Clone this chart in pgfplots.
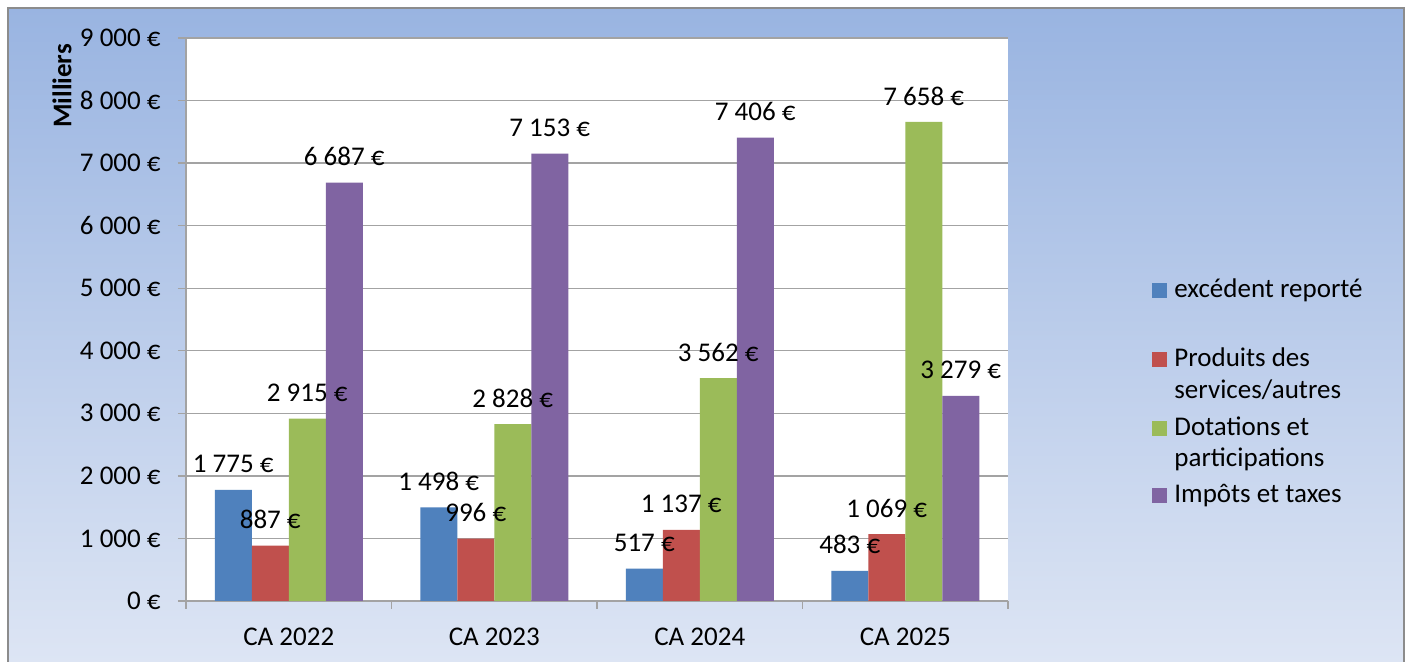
\documentclass[border=0pt]{standalone}
\usepackage{fontspec}
\setmainfont{Carlito}
\usepackage{pgfplots}
\pgfplotsset{compat=1.18}

\definecolor{serA}{HTML}{4F81BD}
\definecolor{serB}{HTML}{C0504D}
\definecolor{serC}{HTML}{9BBB59}
\definecolor{serD}{HTML}{8064A2}
\definecolor{bgtop}{HTML}{99B4E1}
\definecolor{bgbot}{HTML}{DDE5F4}
\definecolor{gridc}{HTML}{A3A3A3}
\definecolor{framec}{HTML}{8C8C8C}
\newcommand\lbl{\fontsize{13.5pt}{16pt}\selectfont}

\begin{document}
\lbl
\begin{tikzpicture}
\useasboundingbox (0,0) rectangle (704pt,331pt);
\fill[white] (0,0) rectangle (704pt,331pt);
\shade[top color=bgtop, bottom color=bgbot] (4pt,0) rectangle (702pt,327pt);
\draw[framec, line width=0.8pt] (4pt,0) -- (4pt,327pt) -- (702pt,327pt) -- (702pt,0);

\begin{axis}[
  at={(93pt,30.5pt)}, anchor=south west,
  width=411pt, height=281.5pt, scale only axis,
  axis background/.style={fill=white},
  ybar=0pt, bar width=18.5pt,
  xmin=-0.5, xmax=3.5, ymin=0, ymax=9000,
  ytick={0,1000,...,9000},
  xtick={-0.5,0.5,...,3.5}, xticklabels={},
  extra x ticks={0,1,2,3},
  extra x tick labels={CA 2022,CA 2023,CA 2024,CA 2025},
  extra x tick style={major tick length=0pt, grid=none,
    xticklabel style={yshift=-9pt}},
  axis x line*=bottom, axis y line*=left,
  axis line style={gridc, line width=0.7pt, -},
  tick align=outside, major tick length=4pt,
  tick style={gridc, line width=0.7pt},
  ymajorgrids, grid style={gridc, line width=0.7pt},
  tick label style={font=\lbl, text=black},
  yticklabel={\pgfmathprintnumber[assume math mode=true,1000 sep={\ }]{\tick}\ €},
  yticklabel style={xshift=-4pt},
  nodes near coords={\pgfmathprintnumber[assume math mode=true,1000 sep={\ },fixed,precision=0]{\pgfplotspointmeta}\ €},
  every node near coord/.append style={font=\lbl, text=black, anchor=center, yshift=13pt},
]
\addplot[fill=serA, draw=none] coordinates {(0,1775) (1,1498) (2,517) (3,483)};
\addplot[fill=serB, draw=none] coordinates {(0,887) (1,996) (2,1137) (3,1069)};
\addplot[fill=serC, draw=none] coordinates {(0,2915) (1,2828) (2,3562) (3,7658)};
\addplot[fill=serD, draw=none] coordinates {(0,6687) (1,7153) (2,7406) (3,3279)};
\end{axis}

\node[rotate=90, font=\lbl\bfseries] at (31pt,288pt) {Milliers};

% legend
\fill[serA] (576pt,182pt) rectangle ++(7.5pt,7.5pt);
\fill[serB] (576pt,147.5pt) rectangle ++(7.5pt,7.5pt);
\fill[serC] (576pt,113pt) rectangle ++(7.5pt,7.5pt);
\fill[serD] (576pt,79.5pt) rectangle ++(7.5pt,7.5pt);
\node[anchor=base west, inner sep=0pt] at (587pt,182pt) {excédent reporté};
\node[anchor=base west, inner sep=0pt] at (587pt,147.5pt) {Produits des};
\node[anchor=base west, inner sep=0pt] at (587pt,131.5pt) {services/autres};
\node[anchor=base west, inner sep=0pt] at (587pt,113pt) {Dotations et};
\node[anchor=base west, inner sep=0pt] at (587pt,97.5pt) {participations};
\node[anchor=base west, inner sep=0pt] at (587pt,79.5pt) {Impôts et taxes};
\end{tikzpicture}
\end{document}
